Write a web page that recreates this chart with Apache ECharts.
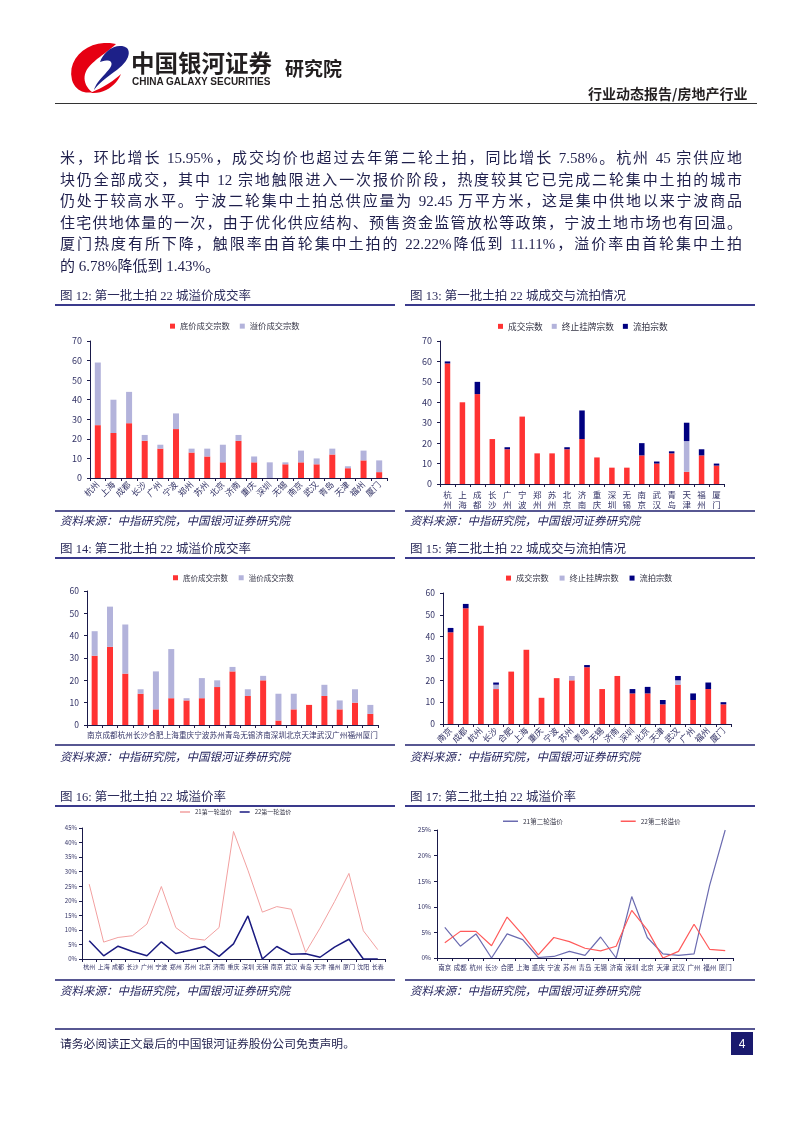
<!DOCTYPE html>
<html><head><meta charset="utf-8">
<script src="https://cdn.jsdelivr.net/npm/echarts@6/dist/echarts.min.js"></script>
<style>
html,body{margin:0;padding:0;background:#fff;}
#page{position:relative;width:802px;height:1133px;overflow:hidden;background:#fff;}
#chart{position:absolute;left:0;top:0;width:802px;height:1133px;}
.t{position:absolute;white-space:nowrap;font-family:"Liberation Serif","Noto Sans CJK SC",serif;color:#1f1f4c;z-index:2;}
.para{position:absolute;left:60px;width:682px;height:22px;line-height:22px;font-size:15px;text-align:justify;text-align-last:justify;font-family:"Liberation Serif","Noto Sans CJK SC",serif;color:#1f1f4c;z-index:2;overflow:hidden;}
.para.last{text-align-last:left;}
.cap{font-size:12.5px;line-height:16px;color:#2a2a5a;}
.src{font-size:11.5px;line-height:16px;font-style:italic;color:#1f1f5a;font-family:"Noto Sans CJK SC",sans-serif;}
</style></head>
<body><div id="page">
<div id="chart"></div>
<div class="t" style="left:131px;top:49px;font-size:23.5px;line-height:26px;font-weight:bold;font-family:'Noto Sans CJK SC';color:#231f20;">中国银河证券</div>
<div class="t" style="left:132px;top:76px;font-size:10px;line-height:11px;font-weight:bold;font-family:'Liberation Sans';color:#231f20;">CHINA GALAXY SECURITIES</div>
<div class="t" style="left:285px;top:56px;font-size:19px;line-height:24px;font-weight:bold;font-family:'Noto Sans CJK SC';color:#231f20;">研究院</div>
<div class="t" style="left:588px;width:155px;text-align:right;top:84px;font-size:14px;line-height:18px;font-weight:bold;font-family:'Noto Sans CJK SC';color:#231f20;">行业动态报告/房地产行业</div>

<div class="para" style="top:147px;">米，环比增长 15.95%，成交均价也超过去年第二轮土拍，同比增长 7.58%。杭州 45 宗供应地</div>
<div class="para" style="top:169px;">块仍全部成交，其中 12 宗地触限进入一次报价阶段，热度较其它已完成二轮集中土拍的城市</div>
<div class="para" style="top:190px;">仍处于较高水平。宁波二轮集中土拍总供应量为 92.45 万平方米，这是集中供地以来宁波商品</div>
<div class="para" style="top:212px;">住宅供地体量的一次，由于优化供应结构、预售资金监管放松等政策，宁波土地市场也有回温。</div>
<div class="para" style="top:233px;">厦门热度有所下降，触限率由首轮集中土拍的 22.22%降低到 11.11%，溢价率由首轮集中土拍</div>
<div class="para last" style="top:255px;">的 6.78%降低到 1.43%。</div>

<div class="t cap" style="left:60px;top:288px;">图 12: 第一批土拍 22 城溢价成交率</div>
<div class="t cap" style="left:410px;top:288px;">图 13: 第一批土拍 22 城成交与流拍情况</div>
<div class="t cap" style="left:60px;top:541px;">图 14: 第二批土拍 22 城溢价成交率</div>
<div class="t cap" style="left:410px;top:541px;">图 15: 第二批土拍 22 城成交与流拍情况</div>
<div class="t cap" style="left:60px;top:789px;">图 16: 第一批土拍 22 城溢价率</div>
<div class="t cap" style="left:410px;top:789px;">图 17: 第二批土拍 22 城溢价率</div>

<div class="t src" style="left:60px;top:512px;">资料来源：中指研究院，中国银河证券研究院</div>
<div class="t src" style="left:410px;top:512px;">资料来源：中指研究院，中国银河证券研究院</div>
<div class="t src" style="left:60px;top:748px;">资料来源：中指研究院，中国银河证券研究院</div>
<div class="t src" style="left:410px;top:748px;">资料来源：中指研究院，中国银河证券研究院</div>
<div class="t src" style="left:60px;top:982px;">资料来源：中指研究院，中国银河证券研究院</div>
<div class="t src" style="left:410px;top:982px;">资料来源：中指研究院，中国银河证券研究院</div>

<div class="t" style="left:60px;top:1035px;font-size:11.8px;line-height:16px;font-family:'Noto Sans CJK SC';color:#1f1f4c;">请务必阅读正文最后的中国银河证券股份公司免责声明。</div>
<div class="t" style="left:731px;width:22px;text-align:center;top:1036px;font-size:12px;line-height:16px;font-family:'Liberation Sans';color:#fff;">4</div>
</div>
<script>
// ---- data ----
const cities1 = ['杭州','上海','成都','长沙','广州','宁波','郑州','苏州','北京','济南','重庆','深圳','无锡','南京','武汉','青岛','天津','福州','厦门'];
const base1 = [27,23,28,19,15,25,13,11,8,19,8,0,7,8,7,12,5,9,3];
const premium1 = [32,17,16,3,2,8,2,4,9,3,3,8,1,6,3,3,1,5,6];
const deal1 = [59,40,44,22,17,33,15,15,17,22,13,8,8,14,10,15,6,14,9];
const stop1 = [0,0,0,0,0,0,0,0,0,0,0,0,0,0,0,0,15,0,0];
const fail1 = [1,0,6,0,1,0,0,0,1,14,0,0,0,6,1,1,9,3,1];

const cities2 = ['南京','成都','杭州','长沙','合肥','上海','重庆','宁波','苏州','青岛','无锡','济南','深圳','北京','天津','武汉','广州','福州','厦门'];
const base2 = [31,35,23,14,7,12,11,12,17,24,13,20,2,7,9,13,7,10,5];
const premium2 = [11,18,22,2,17,22,1,9,3,2,3,2,12,7,0,5,4,6,4];
const deal2 = [42,53,45,16,24,34,12,21,20,26,16,22,14,14,9,18,11,16,9];
const stop2 = [0,0,0,2,0,0,0,0,2,0,0,0,0,0,0,2,0,0,0];
const fail2 = [2,2,0,1,0,0,0,0,0,1,0,0,2,3,2,2,3,3,1];

const cities3 = ['杭州','上海','成都','长沙','广州','宁波','郑州','苏州','北京','济南','重庆','深圳','无锡','南京','武汉','青岛','天津','福州','厦门','沈阳','长春'];
const rate21r1 = [25.7,5.8,7.4,8.0,12.0,24.9,10.8,7.1,6.5,10.8,43.8,30.5,16.1,18.0,17.1,2.3,10.6,19.7,29.4,9.7,3.2];
const rate22r1 = [6.3,1.1,4.4,2.6,1.1,5.9,1.9,3.0,4.3,0.9,5.2,14.8,0,4.3,1.6,1.8,0.6,4.1,6.78,0,0];

const cities4 = ['南京','成都','杭州','长沙','合肥','上海','重庆','宁波','苏州','青岛','无锡','济南','深圳','北京','天津','武汉','广州','福州','厦门'];
const rate21r2 = [6.0,2.3,4.7,0,4.7,3.6,0.1,0.3,1.3,0.5,4.1,0,12.0,4.0,0.8,0.5,0.8,14.2,25.0];
const rate22r2 = [3.0,5.2,5.2,2.4,8.0,4.5,0.6,4.0,3.2,1.9,1.4,2.3,9.3,5.5,0,1.3,6.6,1.7,1.43];

// ---- styles ----
const ff = 'Noto Sans CJK SC';
const axisC = '#1a1a4a';
const labC = '#333366';
const RED = '#ff3333', LAV = '#b3b3db', NAVY = '#000080';

const chart = echarts.init(document.getElementById('chart'), null, {renderer:'canvas'});

function xAx(g, data, lab) {
  return {type:'category', gridIndex:g, data:data,
    axisLine:{lineStyle:{color:axisC, width:1}},
    axisTick:{show:true, length:3, lineStyle:{color:axisC}},
    axisLabel:Object.assign({interval:0, color:labC, fontFamily:ff}, lab)};
}
function yAx(g, max, interval, lab, fmt) {
  return {type:'value', gridIndex:g, min:0, max:max, interval:interval,
    splitLine:{show:false},
    axisLine:{show:true, lineStyle:{color:axisC, width:1}},
    axisTick:{show:true, length:3, lineStyle:{color:axisC}},
    axisLabel:Object.assign({color:labC, fontFamily:ff, formatter:fmt||'{value}'}, lab)};
}
function bar(name, data, g, color, stack, w) {
  return {type:'bar', name:name, data:data, xAxisIndex:g, yAxisIndex:g, stack:stack,
    barWidth:w, itemStyle:{color:color}, animation:false};
}
function line(name, data, g, color, w) {
  return {type:'line', name:name, data:data, xAxisIndex:g, yAxisIndex:g, symbol:'none',
    lineStyle:{color:color, width:w}, itemStyle:{color:color}, animation:false};
}
function leg(data, left, top, fs, iw, ih, gap) {
  return {data:data, left:left, top:top, itemWidth:iw, itemHeight:ih, itemGap:gap,
    icon:'rect', padding:0, textStyle:{fontSize:fs, color:'#333344', fontFamily:ff}, selectedMode:false};
}

const L = (x1,y1,x2,y2,c,w)=>({type:'line', shape:{x1:x1,y1:y1,x2:x2,y2:y2}, style:{stroke:c, lineWidth:w}, silent:true});

// logo outline: sample cubic beziers into polygon points (decoration only)
function bez(start, segs) {
  const pts = [start];
  let p0 = start;
  segs.forEach(s => {
    const [c1, c2, p3] = s;
    for (let i = 1; i <= 12; i++) {
      const t = i/12, u = 1-t;
      pts.push([
        u*u*u*p0[0] + 3*u*u*t*c1[0] + 3*u*t*t*c2[0] + t*t*t*p3[0],
        u*u*u*p0[1] + 3*u*u*t*c1[1] + 3*u*t*t*c2[1] + t*t*t*p3[1]
      ]);
    }
    p0 = p3;
  });
  return pts;
}
const logoRed = bez([116,44], [[[92,38],[66,56],[72,80]], [[75,90],[84,94],[92,92]], [[84,86],[82,76],[88,68]], [[96,58],[108,52],[116,44]]]);
const logoRed2 = bez([90,93], [[[104,94],[116,86],[121,74]], [[112,82],[104,87],[90,93]]]);
const logoBlue = bez([100,62], [[[104,50],[118,42],[127,48]], [[132,54],[126,64],[114,72]], [[106,78],[98,84],[94,90]], [[96,82],[104,76],[110,68]], [[114,62],[110,58],[100,62]]]);

const option = {
  animation:false,
  textStyle:{fontFamily:ff},
  grid:[
    {left:90, top:341, width:297, height:137},
    {left:440, top:341, width:284, height:143},
    {left:87, top:591, width:291, height:134},
    {left:443, top:593, width:288, height:131},
    {left:82, top:828, width:303, height:131},
    {left:437, top:830, width:296, height:128}
  ],
  xAxis:[
    xAx(0, cities1, {rotate:45, fontSize:8.5, margin:5}),
    xAx(1, cities1, {fontSize:8.5, lineHeight:10, margin:6, formatter:function(v){return v.split('').join('\n');}}),
    xAx(2, cities2, {fontSize:7.6, margin:6}),
    xAx(3, cities2, {rotate:45, fontSize:8.5, margin:5}),
    xAx(4, cities3, {fontSize:6, margin:5}),
    xAx(5, cities4, {fontSize:6.5, margin:6})
  ],
  yAxis:[
    yAx(0, 70, 10, {fontSize:9, margin:8}),
    yAx(1, 70, 10, {fontSize:9, margin:8}),
    yAx(2, 60, 10, {fontSize:8.5, margin:8}),
    yAx(3, 60, 10, {fontSize:8.5, margin:8}),
    yAx(4, 45, 5, {fontSize:6, margin:5}, '{value}%'),
    yAx(5, 25, 5, {fontSize:6.5, margin:6}, '{value}%')
  ],
  legend:[
    leg(['底价成交宗数','溢价成交宗数'], 170, 322, 8.3, 5, 5, 10),
    leg(['成交宗数','终止挂牌宗数','流拍宗数'], 498, 322, 8.7, 5, 5, 9),
    leg(['底价成交宗数 ','溢价成交宗数 '], 173, 574, 7.5, 5, 5, 9),
    leg(['成交宗数 ','终止挂牌宗数 ','流拍宗数 '], 506, 574, 8.2, 5, 5, 9),
    leg(['21第一轮溢价','22第一轮溢价'], 180, 809, 6, 10, 1.5, 8),
    leg(['21第二轮溢价','22第二轮溢价'], 503, 818, 6.5, 15, 1.5, 58)
  ],
  series:[
    bar('底价成交宗数', base1, 0, RED, 's1', 6),
    bar('溢价成交宗数', premium1, 0, LAV, 's1', 6),
    bar('成交宗数', deal1, 1, RED, 's2', 5.5),
    bar('终止挂牌宗数', stop1, 1, LAV, 's2', 5.5),
    bar('流拍宗数', fail1, 1, NAVY, 's2', 5.5),
    bar('底价成交宗数 ', base2, 2, RED, 's3', 6),
    bar('溢价成交宗数 ', premium2, 2, LAV, 's3', 6),
    bar('成交宗数 ', deal2, 3, RED, 's4', 5.7),
    bar('终止挂牌宗数 ', stop2, 3, LAV, 's4', 5.7),
    bar('流拍宗数 ', fail2, 3, NAVY, 's4', 5.7),
    line('21第一轮溢价', rate21r1, 4, '#f2a0a0', 1),
    line('22第一轮溢价', rate22r1, 4, '#1a1a80', 1.5),
    line('21第二轮溢价', rate21r2, 5, '#6b6bb0', 1.2),
    line('22第二轮溢价', rate22r2, 5, '#ff5a5a', 1.2)
  ],
  graphic:[
    {type:'polygon', shape:{points:logoRed}, style:{fill:'#e60012'}, silent:true},
    {type:'polygon', shape:{points:logoRed2}, style:{fill:'#e60012'}, silent:true},
    {type:'polygon', shape:{points:logoBlue}, style:{fill:'#1d2088'}, silent:true},
    L(55,103.5,757,103.5,'#333333',1),
    L(55,305,395,305,'#3a3a8c',2), L(405,305,755,305,'#3a3a8c',2),
    L(55,558,395,558,'#3a3a8c',2), L(405,558,755,558,'#3a3a8c',2),
    L(55,806,395,806,'#3a3a8c',2), L(405,806,755,806,'#3a3a8c',2),
    L(55,511,395,511,'#1f1f6e',1.5), L(405,511,755,511,'#1f1f6e',1.5),
    L(55,745,395,745,'#1f1f6e',1.5), L(405,745,755,745,'#1f1f6e',1.5),
    L(55,980,395,980,'#1f1f6e',1.5), L(405,980,755,980,'#1f1f6e',1.5),
    L(55,1029,755,1029,'#1f1f6e',1.5),
    {type:'rect', shape:{x:731, y:1032, width:22, height:23}, style:{fill:'#1a1a6e'}, silent:true}
  ]
};
chart.setOption(option);
</script>
</body></html>
